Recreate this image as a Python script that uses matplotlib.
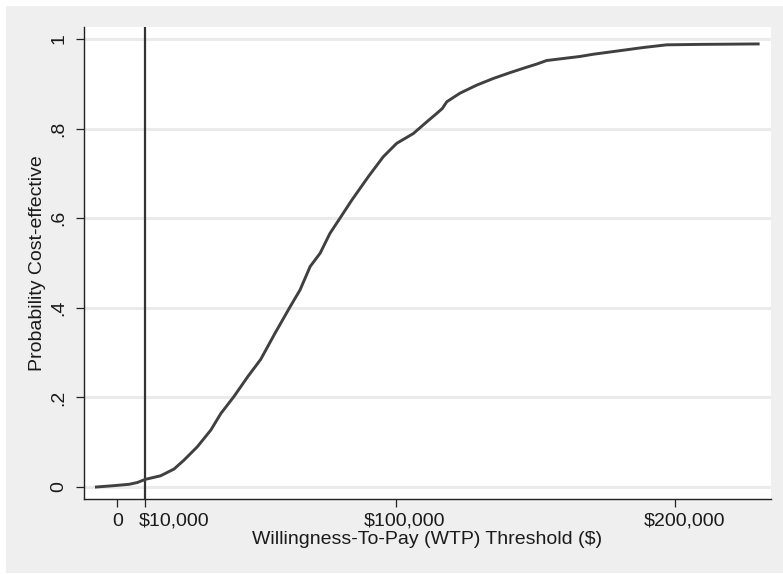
import matplotlib
matplotlib.use("Agg")
import matplotlib.pyplot as plt
from matplotlib.patches import Rectangle
from matplotlib.transforms import ScaledTranslation

# Data (WTP threshold in $, probability cost-effective)
wtp = [-7500, -1200, 4200, 7200, 10000, 15500, 20300, 23900, 28700, 33500,
       37100, 41800, 46600, 51400, 56500, 61900, 65500, 69100, 72700, 76200,
       79800, 84000, 90000, 95300, 100100, 106100, 110900, 114500, 116500, 118100,
       122800, 128800, 134800, 140800, 146700, 150300, 153900, 165800, 170600,
       180200, 188500, 196900, 208900, 229700]
prob = [0.000, 0.003, 0.006, 0.010, 0.017, 0.025, 0.040, 0.060, 0.090, 0.127,
        0.164, 0.202, 0.245, 0.285, 0.343, 0.402, 0.440, 0.492, 0.522, 0.566,
        0.600, 0.640, 0.693, 0.737, 0.767, 0.789, 0.815, 0.834, 0.845, 0.860,
        0.879, 0.897, 0.912, 0.925, 0.937, 0.944, 0.952, 0.961, 0.966,
        0.974, 0.981, 0.987, 0.988, 0.989]

threshold = 10000
x_ticks = [0, 10000, 100000, 200000]
x_ticklabels = ["0", "$10,000", "$100,000", "$200,000"]
y_ticks = [0, 0.2, 0.4, 0.6, 0.8, 1.0]
y_ticklabels = ["0", ".2", ".4", ".6", ".8", "1"]

plt.rcParams['font.family'] = ['Liberation Sans', 'DejaVu Sans']

W, H = 783, 574
fig = plt.figure(figsize=(W / 100, H / 100), dpi=100, facecolor='white')
fig.patches.append(Rectangle((6 / W, 1 / H), 1 - 6 / W, 1 - 7 / H,
                             transform=fig.transFigure, facecolor='#efefef',
                             edgecolor='none', zorder=-10))

ax = fig.add_axes([84 / W, (H - 499) / H, 687 / W, 472 / H])
ax.set_facecolor('white')

ax.set_xlim(-11950, 234300)
ax.set_ylim(-0.0268, 1.0268)

for yv in y_ticks:
    ax.axhline(yv, color='#ebebeb', lw=2.2, zorder=1)

ax.axvline(threshold, color='#333333', lw=1.6, zorder=3)
ax.plot(wtp, prob, color='#404040', lw=2.1, zorder=4, solid_joinstyle='round')

for side in ['top', 'right']:
    ax.spines[side].set_visible(False)
for side in ['left', 'bottom']:
    ax.spines[side].set_color('#222222')
    ax.spines[side].set_linewidth(1.0)

ax.set_xticks(x_ticks)
ax.set_xticklabels(x_ticklabels)
ax.set_yticks(y_ticks)
ax.set_yticklabels(y_ticklabels, rotation=90, va='center')
ax.tick_params(axis='both', length=5.8, width=0.9, color='#222222',
               labelsize=14, labelcolor='#1a1a1a')
ax.tick_params(axis='x', pad=4)
ax.tick_params(axis='y', pad=6)

# horizontal placement of the x tick labels as in the reference
x_label_shift = {"0": (0, 'center'), "$10,000": (-7, 'left'),
                 "$100,000": (8, 'center'), "$200,000": (9, 'center')}
for lab in ax.get_xticklabels():
    dx, ha = x_label_shift[lab.get_text()]
    lab.set_horizontalalignment(ha)
    lab.set_transform(lab.get_transform() +
                      ScaledTranslation(dx / 100, 0, fig.dpi_scale_trans))

ax.set_xlabel("Willingness-To-Pay (WTP) Threshold ($)", fontsize=14,
              color='#1a1a1a', labelpad=1)
ax.set_ylabel("Probability Cost-effective", fontsize=14, color='#1a1a1a',
              labelpad=3)

fig.savefig("out.png", dpi=100, facecolor=fig.get_facecolor())
